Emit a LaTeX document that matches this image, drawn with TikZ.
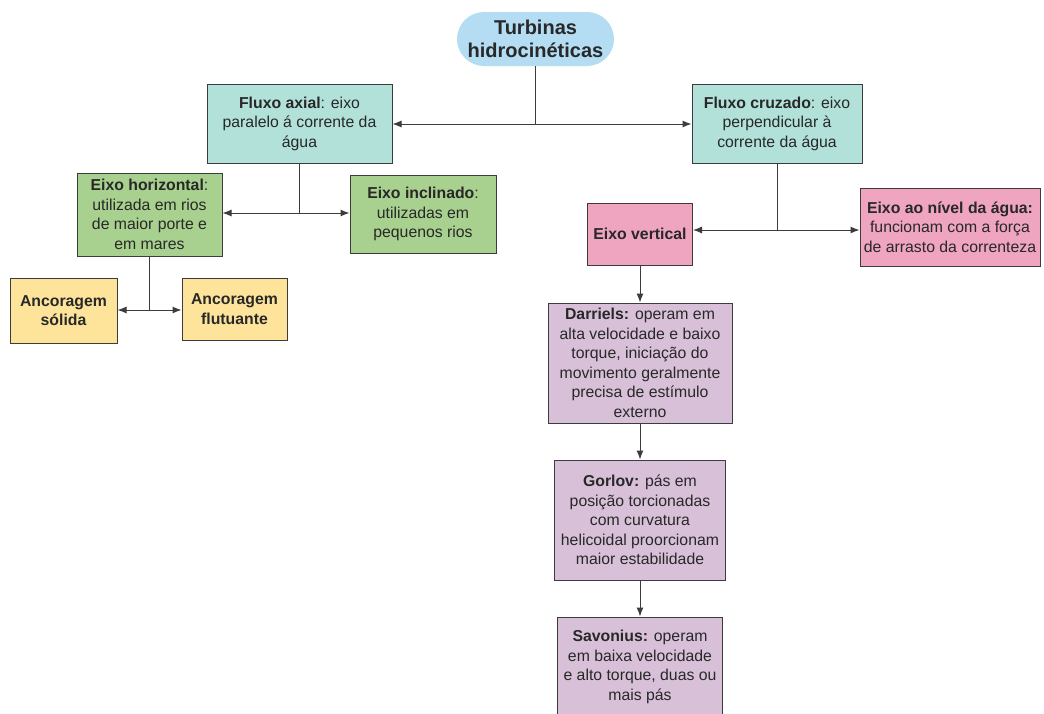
\documentclass[tikz,border=0pt]{standalone}
\usepackage{fontspec}
\setmainfont{Liberation Sans}
\usetikzlibrary{arrows.meta}
\definecolor{cturb}{RGB}{180,221,244}
\definecolor{cflux}{RGB}{178,225,218}
\definecolor{cgreen}{RGB}{168,208,142}
\definecolor{cyel}{RGB}{254,228,155}
\definecolor{cpink}{RGB}{239,164,192}
\definecolor{cpurp}{RGB}{216,193,216}
\definecolor{cline}{RGB}{60,60,60}
\definecolor{ctext}{RGB}{40,40,40}
\tikzset{
  boxnode/.style={draw=cline, line width=1pt, align=center, inner sep=1pt,
    text=ctext, font=\fontsize{15.8}{19.5}\selectfont},
  conn/.style={draw=cline, line width=1pt},
  arr/.style={conn, -{Latex[length=9pt,width=7pt]}}
}
\begin{document}
\begin{tikzpicture}[x=1pt,y=-1pt]
\useasboundingbox[fill=white] (0,0) rectangle (1044,713);
\begin{scope}
\clip (0,0) rectangle (1044,713);
\node[fill=cturb, rounded corners=27pt, minimum width=157pt, minimum height=54pt, align=center, text=ctext,
  font=\fontsize{20}{23}\selectfont\bfseries, inner sep=0pt] (turb) at (535.5,39) {Turbinas\\hidrocinéticas};

\node[boxnode, fill=cflux, minimum width=185pt, minimum height=79pt] (fa) at (299.5,123.5)
  {\textbf{Fluxo axial}: eixo\\paralelo á corrente da\\água};
\node[boxnode, fill=cflux, minimum width=170pt, minimum height=79pt] (fc) at (777,123.5)
  {\textbf{Fluxo cruzado}: eixo\\perpendicular à\\corrente da água};

\node[boxnode, fill=cgreen, minimum width=145pt, minimum height=83pt] (eh) at (149.5,214.5)
  {\textbf{Eixo horizontal}:\\utilizada em rios\\de maior porte e\\em mares};
\node[boxnode, fill=cgreen, minimum width=146pt, minimum height=78pt] (ei) at (423,214)
  {\textbf{Eixo inclinado}:\\utilizadas em\\pequenos rios};

\node[boxnode, fill=cyel, minimum width=107pt, minimum height=65pt, font=\fontsize{15.8}{19.5}\selectfont\bfseries] (as) at (63.5,310.5)
  {Ancoragem\\sólida};
\node[boxnode, fill=cyel, minimum width=105pt, minimum height=62pt, font=\fontsize{15.8}{19.5}\selectfont\bfseries] (af) at (234.5,309)
  {Ancoragem\\flutuante};

\node[boxnode, fill=cpink, minimum width=105pt, minimum height=62pt, font=\fontsize{15.8}{19.5}\selectfont\bfseries] (ev) at (640,234)
  {Eixo vertical};
\node[boxnode, fill=cpink, minimum width=180pt, minimum height=78pt] (en) at (950,227)
  {\textbf{Eixo ao nível da água:}\\funcionam com a força\\de arrasto da correnteza};

\node[boxnode, fill=cpurp, minimum width=184pt, minimum height=120pt] (da) at (640,363)
  {\textbf{Darriels:} operam em\\alta velocidade e baixo\\torque, iniciação do\\movimento geralmente\\precisa de estímulo\\externo};
\node[boxnode, fill=cpurp, minimum width=171pt, minimum height=120pt] (go) at (640,520)
  {\textbf{Gorlov:} pás em\\posição torcionadas\\com curvatura\\helicoidal proorcionam\\maior estabilidade};
\node[boxnode, fill=cpurp, minimum width=165pt, minimum height=100pt] (sa) at (640,667)
  {\textbf{Savonius:} operam\\em baixa velocidade\\e alto torque, duas ou\\mais pás};

% connectors
\coordinate (j1) at (535.5,124);
\draw[conn] (turb.south) -- (j1);
\draw[arr] (j1) -- (fa.east |- j1);
\draw[arr] (j1) -- (fc.west |- j1);

\coordinate (j2) at (299.5,213);
\draw[conn] (fa.south) -- (j2);
\draw[arr] (j2) -- (eh.east |- j2);
\draw[arr] (j2) -- (ei.west |- j2);

\coordinate (j3) at (149.5,310);
\draw[conn] (eh.south) -- (j3);
\draw[arr] (j3) -- (as.east |- j3);
\draw[arr] (j3) -- (af.west |- j3);

\coordinate (j4) at (777,230);
\draw[conn] (fc.south) -- (j4);
\draw[arr] (j4) -- (ev.east |- j4);
\draw[arr] (j4) -- (en.west |- j4);

\draw[arr] (ev.south) -- (da.north);
\draw[arr] (da.south) -- (go.north);
\draw[arr] (go.south) -- (sa.north);
\end{scope}
\end{tikzpicture}
\end{document}
